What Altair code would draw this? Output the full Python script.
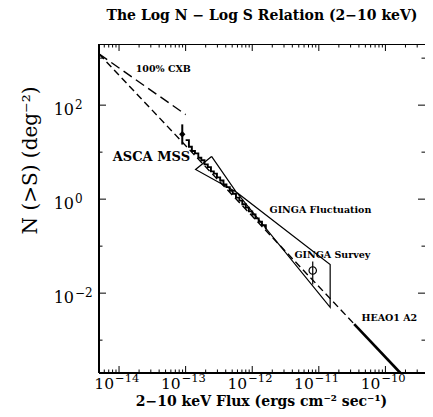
import altair as alt
import pandas as pd

# ---------------- data ----------------
x_ticks = [1e-14, 1e-13, 1e-12, 1e-11, 1e-10]
x_exps = ["−14", "−13", "−12", "−11", "−10"]
x_minor = [6e-15, 7e-15, 8e-15, 9e-15,
           2e-14, 3e-14, 4e-14, 5e-14, 6e-14, 7e-14, 8e-14, 9e-14,
           2e-13, 3e-13, 4e-13, 5e-13, 6e-13, 7e-13, 8e-13, 9e-13,
           2e-12, 3e-12, 4e-12, 5e-12, 6e-12, 7e-12, 8e-12, 9e-12,
           2e-11, 3e-11, 4e-11, 5e-11, 6e-11, 7e-11, 8e-11, 9e-11,
           2e-10, 3e-10]
y_ticks = [1e-2, 1.0, 1e2]
y_exps = ["−2", "0", "2"]
y_minor = [1e-3, 1e-1, 1e1, 1e3]

# 100% CXB limit (dashed)
cxb_S = [5.0e-15, 1.0e-13]
cxb_N = [1230.0, 63.0]
# Euclidean extrapolation (dashed)
euclid_S = [5.0e-15, 3.4e-11]
euclid_N = [1230.0, 0.0022]
# HEAO1 A2 (solid)
heao_S = [3.4e-11, 1.68e-10]
heao_N = [0.0022, 0.0002]

# ASCA MSS staircase
asca_S = [1.00e-13, 1.12e-13, 1.24e-13, 1.38e-13, 1.55e-13, 1.72e-13, 1.92e-13,
          2.15e-13, 2.40e-13, 2.65e-13, 2.95e-13, 3.30e-13, 3.70e-13, 4.10e-13,
          4.60e-13, 5.10e-13, 5.70e-13, 6.40e-13, 7.10e-13, 8.00e-13, 8.90e-13,
          1.00e-12, 1.12e-12, 1.25e-12, 1.40e-12, 1.60e-12]
asca_N = [18.0, 13.0, 10.6, 9.4, 7.6, 6.7, 5.5,
          4.8, 3.9, 3.5, 2.9, 2.5, 2.05, 1.8,
          1.5, 1.3, 1.08, 0.93, 0.78, 0.66, 0.55,
          0.47, 0.39, 0.33, 0.28, 0.23]
asca_pt_S = [8.9e-14]
asca_pt_N = [24.0]
asca_pt_lo = [14.5]
asca_pt_hi = [39.0]

# GINGA fluctuation bow-tie outline
ginga_S = [2.45e-13, 5.75e-13, 1.48e-11, 1.48e-11, 5.75e-13, 1.41e-13, 2.45e-13]
ginga_N = [8.1, 1.42, 0.0408, 0.00497, 1.42, 4.28, 8.1]

# GINGA survey point
survey_S = [8.1e-12]
survey_N = [0.0304]
survey_lo = [0.0153]
survey_hi = [0.047]

# annotations
ann_text = ["100% CXB", "ASCA MSS", "GINGA Fluctuation", "GINGA Survey", "HEAO1 A2"]
ann_S = [1.78e-14, 8.05e-15, 1.82e-12, 4.3e-12, 4.36e-11]
ann_N = [575.0, 7.7, 0.575, 0.0634, 0.0029]
ann_size = [9.5, 13, 9.5, 9.5, 9.5]

W, H = 326, 329
SERIF = "DejaVu Serif"

xscale = alt.Scale(type="log", domain=[5e-15, 3.93e-10], nice=False)
yscale = alt.Scale(type="log", domain=[2e-4, 2e3], nice=False)
xaxis = alt.Axis(values=x_ticks, labels=False, ticks=False, tickSize=0,
                 domain=False, grid=False,
                 title="2−10 keV Flux (ergs cm⁻² sec⁻¹)", titleFont=SERIF,
                 titleFontSize=14, titleFontWeight="bold", titleColor="black",
                 titleX=162, titleY=28, titleAlign="center", titleBaseline="middle")
yaxis = alt.Axis(values=y_ticks, labels=False, ticks=False, tickSize=0,
                 domain=False, grid=False,
                 title="N (>S) (deg⁻²)", titleFont=SERIF, titleFontSize=20,
                 titleFontWeight="normal", titleColor="black",
                 titleX=-69, titleY=116, titleAngle=270,
                 titleAlign="center", titleBaseline="middle")


def X(f="S"):
    return alt.X(f"{f}:Q", scale=xscale, axis=xaxis)


def Y(f="N"):
    return alt.Y(f"{f}:Q", scale=yscale, axis=yaxis)


cxb = alt.Chart(pd.DataFrame({"S": cxb_S, "N": cxb_N})).mark_line(
    color="black", strokeWidth=1.4, strokeDash=[10, 5]).encode(x=X(), y=Y())
euclid = alt.Chart(pd.DataFrame({"S": euclid_S, "N": euclid_N})).mark_line(
    color="black", strokeWidth=1.4, strokeDash=[7, 4]).encode(x=X(), y=Y())
heao = alt.Chart(pd.DataFrame({"S": heao_S, "N": heao_N})).mark_line(
    color="black", strokeWidth=2.6).encode(x=X(), y=Y())
asca = alt.Chart(pd.DataFrame({"S": asca_S, "N": asca_N})).mark_line(
    color="black", strokeWidth=1.9, interpolate="step-after").encode(x=X(), y=Y())
asca_err = alt.Chart(pd.DataFrame({"S": asca_pt_S, "lo": asca_pt_lo, "hi": asca_pt_hi})).mark_rule(
    color="black", strokeWidth=2).encode(x=X(), y=Y("lo"), y2="hi:Q")
asca_pt = alt.Chart(pd.DataFrame({"S": asca_pt_S, "N": asca_pt_N})).mark_point(
    shape="diamond", filled=True, color="black", size=40, opacity=1).encode(x=X(), y=Y())

ginga_df = pd.DataFrame({"S": ginga_S, "N": ginga_N, "o": list(range(len(ginga_S)))})
ginga = alt.Chart(ginga_df).mark_line(color="black", strokeWidth=1.2).encode(
    x=X(), y=Y(), order="o:O")

survey_err = alt.Chart(pd.DataFrame({"S": survey_S, "lo": survey_lo, "hi": survey_hi})).mark_rule(
    color="black", strokeWidth=1.2).encode(x=X(), y=Y("lo"), y2="hi:Q")
survey_pt = alt.Chart(pd.DataFrame({"S": survey_S, "N": survey_N})).mark_point(
    shape="circle", filled=False, color="black", size=55, strokeWidth=1.2, opacity=1).encode(x=X(), y=Y())

ann = alt.Chart(pd.DataFrame({"S": ann_S, "N": ann_N, "t": ann_text, "fs": ann_size})).mark_text(
    font=SERIF, fontWeight="bold", align="left", baseline="middle", color="black").encode(
    x=X(), y=Y(), text="t:N", size=alt.Size("fs:Q", scale=None, legend=None))

# tick labels: "10" with a raised exponent
xl = pd.DataFrame({"S": x_ticks, "b": ["10"] * len(x_ticks), "e": x_exps})
yl = pd.DataFrame({"N": y_ticks, "b": ["10"] * len(y_ticks), "e": y_exps})
x_base = alt.Chart(xl).mark_text(font=SERIF, fontSize=15.5, align="right", baseline="alphabetic",
                                 dx=-5, color="black").encode(x=X(), y=alt.value(H + 16), text="b:N")
x_exp = alt.Chart(xl).mark_text(font=SERIF, fontSize=11.5, align="left", baseline="alphabetic",
                                dx=-4, color="black").encode(x=X(), y=alt.value(H + 9), text="e:N")
y_base = alt.Chart(yl).mark_text(font=SERIF, fontSize=16, align="right", baseline="alphabetic",
                                 dy=10, color="black").encode(y=Y(), x=alt.value(-25), text="b:N")
y_exp = alt.Chart(yl).mark_text(font=SERIF, fontSize=12, align="left", baseline="alphabetic",
                                dy=4, color="black").encode(y=Y(), x=alt.value(-24), text="e:N")

# inward ticks
xt = pd.DataFrame({"S": x_ticks})
xm = pd.DataFrame({"S": x_minor})
yt = pd.DataFrame({"N": y_ticks})
ym = pd.DataFrame({"N": y_minor})
tick_style = dict(color="black", strokeWidth=1)
ticks = [
    alt.Chart(xt).mark_rule(**tick_style).encode(x=X(), y=alt.value(H), y2=alt.value(H - 7)),
    alt.Chart(xt).mark_rule(**tick_style).encode(x=X(), y=alt.value(0), y2=alt.value(7)),
    alt.Chart(xm).mark_rule(**tick_style).encode(x=X(), y=alt.value(H), y2=alt.value(H - 3.5)),
    alt.Chart(xm).mark_rule(**tick_style).encode(x=X(), y=alt.value(0), y2=alt.value(3.5)),
    alt.Chart(yt).mark_rule(**tick_style).encode(y=Y(), x=alt.value(0), x2=alt.value(7)),
    alt.Chart(yt).mark_rule(**tick_style).encode(y=Y(), x=alt.value(W), x2=alt.value(W - 7)),
    alt.Chart(ym).mark_rule(**tick_style).encode(y=Y(), x=alt.value(0), x2=alt.value(3.5)),
    alt.Chart(ym).mark_rule(**tick_style).encode(y=Y(), x=alt.value(W), x2=alt.value(W - 3.5)),
]
frame = [
    alt.Chart(xt).mark_rule(color="black", strokeWidth=2).encode(
        x=alt.value(0), y=alt.value(0), y2=alt.value(H)),
    alt.Chart(xt).mark_rule(color="black", strokeWidth=2).encode(
        x=alt.value(0), x2=alt.value(W), y=alt.value(H)),
]

chart = alt.layer(
    cxb, euclid, heao, ginga, asca, asca_err, asca_pt, survey_err, survey_pt, ann,
    x_base, x_exp, y_base, y_exp, *ticks, *frame
).properties(
    width=W, height=H,
    autosize=alt.AutoSizeParams(type="none"),
    padding={"left": 91, "top": 36, "right": 0, "bottom": 36},
    title=alt.TitleParams("The Log N − Log S Relation (2−10 keV)", font=SERIF,
                          fontSize=14, fontWeight="bold", color="black",
                          anchor="middle", offset=20),
    background="white",
).configure_view(stroke="black", strokeWidth=1)

chart.save("out.html", embed_options={"renderer": "svg", "actions": False})
